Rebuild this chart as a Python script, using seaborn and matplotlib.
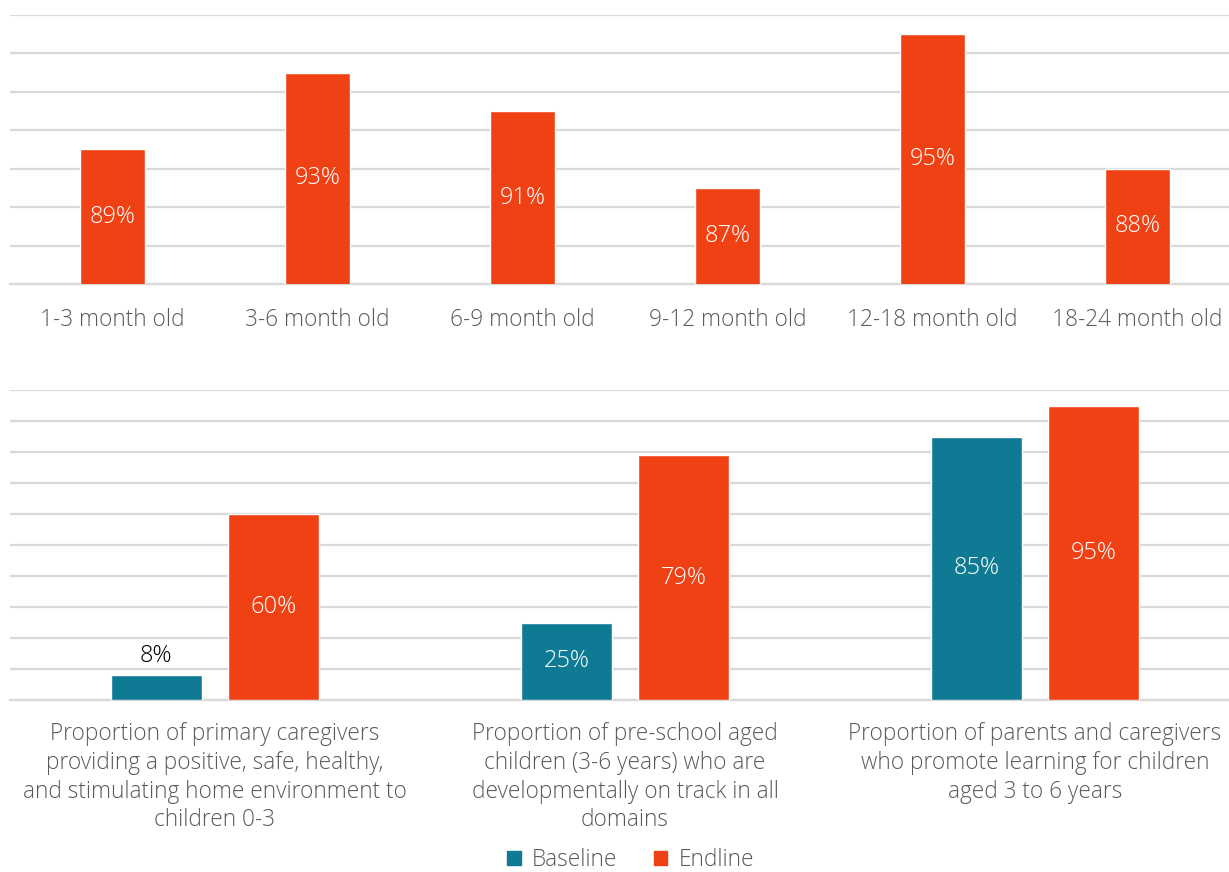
import numpy as np
import pandas as pd
import seaborn as sns
import matplotlib.pyplot as plt
from matplotlib.patches import Patch

# -----------------------------
# Data
# -----------------------------
age_groups = ["1-3 month old", "3-6 month old", "6-9 month old",
              "9-12 month old", "12-18 month old", "18-24 month old"]
age_values = [89, 93, 91, 87, 95, 88]

indicators = [
    "Proportion of primary caregivers\nproviding a positive, safe, healthy,\nand stimulating home environment to\nchildren 0-3",
    "Proportion of pre-school aged\nchildren (3-6 years) who are\ndevelopmentally on track in all\ndomains",
    "Proportion of parents and caregivers\nwho promote learning for children\naged 3 to 6 years",
]
baseline_values = [8, 25, 85]
endline_values = [60, 79, 95]
groups = ["Baseline", "Endline"]

TEAL = "#0E7A93"
ORANGE = "#F04115"
GRID = "#D9D9D9"
TEXT = "#595959"
FS = 16.3
FS_BAR = 17

sns.set_theme(style="white")
plt.rcParams['font.family'] = ['Open Sans', 'DejaVu Sans']
plt.rcParams['font.weight'] = 'light'

fig = plt.figure(figsize=(12.29, 8.72), dpi=100)
W, H = 1229, 872
x0, x1 = 10, 1240
ax1 = fig.add_axes([x0 / W, 1 - 284 / H, (x1 - x0) / W, (284 - 15) / H])
ax2 = fig.add_axes([x0 / W, 1 - 700 / H, (x1 - x0) / W, (700 - 390) / H])

# -----------------------------
# Top panel: by age group
# -----------------------------
sns.barplot(x=age_groups, y=age_values, color=ORANGE, width=0.32,
            saturation=1, ax=ax1, zorder=3)
ax1.set_ylim(82, 96)
ax1.set_yticks(np.arange(82, 97, 2))
ax1.set_xlim(-0.5, len(age_groups) - 0.5)
ax1.bar_label(ax1.containers[0], labels=[f"{v}%" for v in age_values],
              label_type="center", color="white", fontsize=FS_BAR)

# -----------------------------
# Bottom panel: baseline vs endline
# -----------------------------
df = pd.DataFrame({
    "indicator": indicators * 2,
    "group": ["Baseline"] * 3 + ["Endline"] * 3,
    "value": baseline_values + endline_values,
})
sns.barplot(data=df, x="indicator", y="value", hue="group",
            palette={"Baseline": TEAL, "Endline": ORANGE}, saturation=1,
            width=0.573, gap=0.226, legend=False, ax=ax2, zorder=3)
ax2.set_ylim(0, 100)
ax2.set_yticks(np.arange(0, 101, 10))
ax2.set_xlim(-0.5, len(indicators) - 0.5)

for cont, vals in zip(ax2.containers, [baseline_values, endline_values]):
    inside = [f"{v}%" if v >= 15 else "" for v in vals]
    ax2.bar_label(cont, labels=inside, label_type="center",
                  color="white", fontsize=FS_BAR)
    outside = [f"{v}%" if v < 15 else "" for v in vals]
    ax2.bar_label(cont, labels=outside, label_type="edge", padding=5,
                  color="black", fontsize=FS_BAR)

# -----------------------------
# Styling
# -----------------------------
for ax in (ax1, ax2):
    ax.set_xlabel("")
    ax.set_ylabel("")
    ax.set_yticklabels([])
    ax.yaxis.grid(True, color=GRID, linewidth=1.6)
    ax.set_axisbelow(True)
    for s in ["top", "right", "left"]:
        ax.spines[s].set_visible(False)
    ax.spines["bottom"].set_color(GRID)
    ax.spines["bottom"].set_linewidth(1.6)
    ax.tick_params(axis="both", length=0)
    ax.tick_params(axis="x", pad=17, labelsize=FS, labelcolor=TEXT)
ax2.tick_params(axis="x", pad=16)

for lab in ax2.get_xticklabels():
    lab.set_linespacing(1.26)

handles = [Patch(color=TEAL, label="Baseline"), Patch(color=ORANGE, label="Endline")]
fig.legend(handles=handles, loc="center", bbox_to_anchor=(0.513, 1 - 860 / H),
           ncol=2, frameon=False, fontsize=FS, labelcolor=TEXT,
           handlelength=0.6, handleheight=0.6, handletextpad=0.5, columnspacing=1.6)

fig.savefig("out.png", dpi=100)
